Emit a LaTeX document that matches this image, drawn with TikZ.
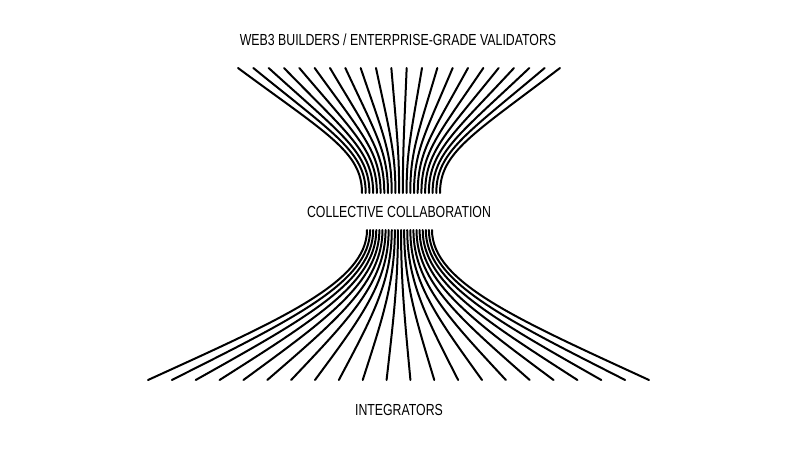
\documentclass[tikz,border=0pt]{standalone}
\usepackage{fontspec}
\newfontfamily\labelfont[FakeStretch=0.77]{Liberation Sans}
\usetikzlibrary{positioning}

\begin{document}
\begin{tikzpicture}[x=1pt,y=-1pt,
      fibre/.style={draw=black, line width=2pt, line cap=round},
      caption/.style={font=\labelfont\fontsize{16}{19}\selectfont, text=black, inner sep=0pt}]
    \useasboundingbox (0,0) rectangle (800,450);

    \node[caption] (builders) at (398,40) {WEB3 BUILDERS / ENTERPRISE-GRADE VALIDATORS};
    \node[caption] (collab) at (399,212) {COLLECTIVE COLLABORATION};
    \node[caption] (integrators) at (399,410) {INTEGRATORS};

    % upper funnel
    \foreach \i in {0,...,21} {
      \pgfmathsetmacro{\xt}{238+15.333*\i}
      \pgfmathsetmacro{\xb}{362+3.714*\i}
      \draw[fibre] (\xt,68) .. controls ({\xt+0.72*(\xb-\xt)},134) and (\xb,152) .. (\xb,193);
    }

    % lower funnel
    \foreach \i in {0,...,21} {
      \pgfmathsetmacro{\xt}{367+3.095*\i}
      \pgfmathsetmacro{\xb}{148+23.857*\i}
      \draw[fibre] (\xt,230) .. controls (\xt,282.5) and ({\xb+0.6*(\xt-\xb)},320) .. (\xb,380);
    }
\end{tikzpicture}
\end{document}
